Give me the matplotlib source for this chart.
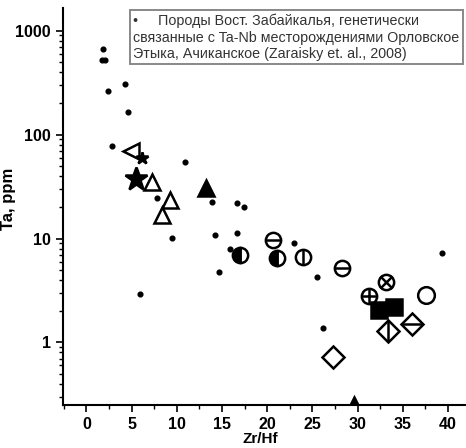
import matplotlib
matplotlib.use("Agg")
import matplotlib.pyplot as plt
from matplotlib.ticker import FixedLocator, MultipleLocator, NullFormatter, LogLocator

plt.rcParams['font.family'] = ['Liberation Sans', 'DejaVu Sans']

# ===============================
# Data (Zr/Hf vs Ta, ppm)
# ===============================
# small dots - Zaraisky et al., 2008
dots_x = [1.8, 1.7, 2.1, 4.3, 2.4, 4.6, 2.8, 10.9, 7.8, 13.9, 16.7, 17.4,
          9.5, 5.9, 14.2, 16.7, 15.9, 14.7, 23.0, 25.5, 26.2, 39.3]
dots_y = [670, 525, 525, 308, 260, 165, 78, 54, 24.5, 22.4, 22.0, 20.2,
          10.1, 2.95, 10.9, 11.3, 7.9, 4.75, 9.1, 4.3, 1.38, 7.3]

tri_left_x, tri_left_y = [4.9], [70]
star_small_x, star_small_y = [6.1], [60]
star_big_x, star_big_y = [5.5], [37]
tri_open_x = [7.3, 9.3, 8.4]
tri_open_y = [35, 23.4, 16.8]
tri_fill_x = [13.2, 29.6]
tri_fill_y = [30.5, 0.252]

circ_half_x = [17.0, 21.1]
circ_half_y = [7.0, 6.45]
circ_hline_x = [20.7, 28.3]
circ_hline_y = [9.7, 5.15]
circ_vline_x, circ_vline_y = [24.0], [6.6]
circ_plus_x, circ_plus_y = [31.3], [2.8]
circ_cross_x, circ_cross_y = [33.1], [3.8]
circ_open_x, circ_open_y = [37.6], [2.85]
square_x = [32.4, 34.0]
square_y = [2.05, 2.2]
diam_open_x, diam_open_y = [27.3], [0.72]
diam_h_x, diam_h_y = [36.0], [1.52]
diam_v_x, diam_v_y = [33.4], [1.28]

legend_text = ("\u2022     Породы Вост. Забайкалья, генетически\n"
               "связанные с Ta-Nb месторождениями Орловское\n"
               "Этыка, Ачиканское (Zaraisky et. al., 2008)")

# ===============================
# Plot
# ===============================
fig = plt.figure(figsize=(4.66, 4.48), dpi=100)
ax = fig.add_axes([0.135, 0.096, 0.865, 0.886])

k = dict(color='black', linestyle='none', markeredgewidth=1.8)

ax.plot(dots_x, dots_y, 'o', color='black', markersize=3.4, linestyle='none')

ax.plot(tri_left_x, tri_left_y, '<', markersize=12, markerfacecolor='white', **k)
ax.plot(star_small_x, star_small_y, '*', markersize=9, **k)
ax.plot(star_big_x, star_big_y, '*', markersize=17, **k)
ax.plot(tri_open_x, tri_open_y, '^', markersize=12, markerfacecolor='white', **k)
ax.plot(tri_fill_x, tri_fill_y, '^', markersize=12, **k)

ax.plot(circ_half_x, circ_half_y, 'o', markersize=11, fillstyle='left',
        markerfacecoloralt='white', **k)
ax.plot(circ_half_x, circ_half_y, '|', markersize=11, **k)
ax.plot(circ_hline_x, circ_hline_y, 'o', markersize=11, markerfacecolor='white', **k)
ax.plot(circ_hline_x, circ_hline_y, '_', markersize=11, **k)
ax.plot(circ_vline_x, circ_vline_y, 'o', markersize=11, markerfacecolor='white', **k)
ax.plot(circ_vline_x, circ_vline_y, '|', markersize=11, **k)
ax.plot(circ_plus_x, circ_plus_y, 'o', markersize=11, markerfacecolor='white', **k)
ax.plot(circ_plus_x, circ_plus_y, '+', markersize=11, **k)
ax.plot(circ_cross_x, circ_cross_y, 'o', markersize=11, markerfacecolor='white', **k)
ax.plot(circ_cross_x, circ_cross_y, 'x', markersize=8, **k)
ax.plot(circ_open_x, circ_open_y, 'o', markersize=12, markerfacecolor='white', **k)
ax.plot(square_x, square_y, 's', markersize=12, **k)
ax.plot(diam_open_x, diam_open_y, 'D', markersize=11, markerfacecolor='white', **k)
ax.plot(diam_h_x, diam_h_y, 'D', markersize=11, markerfacecolor='white', **k)
ax.plot(diam_h_x, diam_h_y, '_', markersize=14, **k)
ax.plot(diam_v_x, diam_v_y, 'D', markersize=11, markerfacecolor='white', **k)
ax.plot(diam_v_x, diam_v_y, '|', markersize=14, **k)

ax.set_yscale('log')
ax.set_xlim(-2.6, 42)
ax.set_ylim(0.25, 1650)

ax.spines['top'].set_visible(False)
ax.spines['right'].set_visible(False)
ax.spines['left'].set_linewidth(1.5)
ax.spines['bottom'].set_linewidth(1.5)

ax.xaxis.set_major_locator(FixedLocator([0, 5, 10, 15, 20, 25, 30, 35, 40]))
ax.xaxis.set_minor_locator(MultipleLocator(2.5))
ax.yaxis.set_major_locator(FixedLocator([1, 10, 100, 1000]))
ax.yaxis.set_minor_locator(LogLocator(base=10, subs=range(2, 10)))
ax.yaxis.set_minor_formatter(NullFormatter())
ax.set_yticklabels(['1', '10', '100', '1000'])

ax.tick_params(which='major', direction='out', length=5, width=1.2,
               labelsize=11.5)
ax.tick_params(which='minor', direction='out', length=3, width=1)
for lbl in ax.get_xticklabels() + ax.get_yticklabels():
    lbl.set_fontweight('bold')

ax.set_xlabel('Zr/Hf', fontsize=11, fontweight='bold')
ax.set_ylabel('Ta, ppm', fontsize=12, fontweight='bold')
ax.yaxis.set_label_coords(-0.117, 0.52)
ax.xaxis.set_label_coords(0.49, -0.068)

# legend box
ax.text(0.175, 0.985, legend_text, transform=ax.transAxes, ha='left', va='top',
        fontsize=10.3, color='#333333', linespacing=1.2,
        bbox=dict(boxstyle='square,pad=0.25', facecolor='white',
                  edgecolor='#888888', linewidth=1.4))

plt.savefig("out.png", dpi=100)
plt.close()
